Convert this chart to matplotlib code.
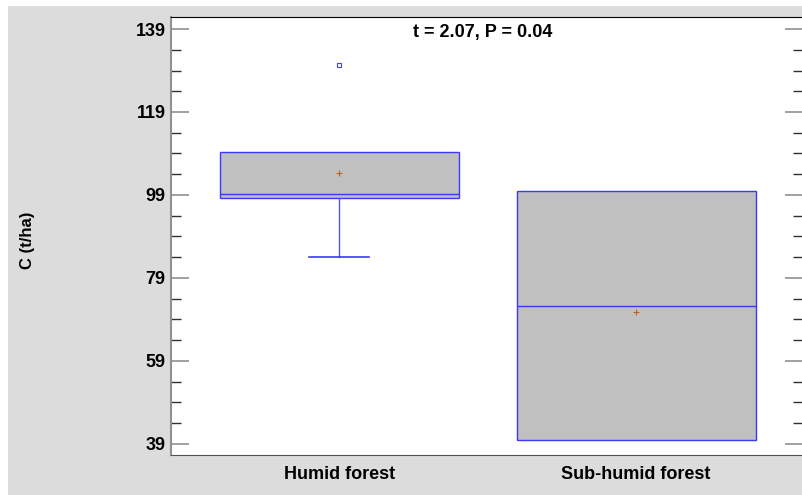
import matplotlib.pyplot as plt
from matplotlib.patches import Rectangle
from matplotlib.ticker import FixedLocator

# data
groups = ["Humid forest", "Sub-humid forest"]
q1 = [98.3, 40.0]
medians = [99.2, 72.3]
q3 = [109.4, 99.9]
whis_lo = [84.0, 40.0]
whis_hi = [109.4, 99.9]
means = [104.2, 70.7]
outliers = [[130.3], []]
yticks = [39, 59, 79, 99, 119, 139]
title = "t = 2.07, P = 0.04"

plt.rcParams['font.family'] = ['Liberation Sans Narrow', 'Liberation Sans', 'DejaVu Sans']
plt.rcParams['font.weight'] = 'bold'

fig = plt.figure(figsize=(8.03, 4.95), dpi=100, facecolor="white")
fig.patches.append(Rectangle((8/803, 0), 1, 489/495, transform=fig.transFigure,
                             facecolor="#dcdcdc", edgecolor="none", zorder=-10))

ax = fig.add_axes([171/803, 40/495, 632/803, 438/495])
ax.set_zorder(1)
ax.set_facecolor("white")

stats = []
for i in range(len(groups)):
    stats.append(dict(label=groups[i], q1=q1[i], med=medians[i], q3=q3[i],
                      whislo=whis_lo[i], whishi=whis_hi[i], mean=means[i],
                      fliers=outliers[i]))

parts = ax.bxp(stats, positions=[1, 2], widths=0.805, patch_artist=True, showmeans=True,
               boxprops=dict(facecolor="#c0c0c0", edgecolor="#3a3aff", linewidth=1.0),
               medianprops=dict(color="#3a3aff", linewidth=1.0),
               whiskerprops=dict(color="#5050ff", linewidth=1.0),
               capprops=dict(color="#3a3aff", linewidth=1.2),
               capwidths=0.2,
               meanprops=dict(marker="+", markeredgecolor="#c06020", markersize=4,
                              markeredgewidth=0.8),
               flierprops=dict(marker="s", markerfacecolor="white", markeredgecolor="#4040ff",
                               markersize=3.5, markeredgewidth=0.8))
# whiskers that collapse onto the box get no cap
for i in range(len(groups)):
    if whis_lo[i] >= q1[i]:
        parts["caps"][2 * i].set_visible(False)
    if whis_hi[i] <= q3[i]:
        parts["caps"][2 * i + 1].set_visible(False)

ax.set_xlim(0.434, 2.562)
ax.set_ylim(36.3, 141.9)
ax.yaxis.set_major_locator(FixedLocator(yticks))
ax.yaxis.set_minor_locator(FixedLocator([v + d for v in yticks[:-1] for d in (5, 10, 15)]))
ax.tick_params(axis="y", which="major", direction="in", length=13, width=1.2,
               color="#909090", labelsize=13, right=True, pad=4)
ax.tick_params(axis="y", which="minor", direction="in", length=7, width=1.0,
               color="#303030", right=True)
ax.tick_params(axis="x", length=0, labelsize=13, pad=8)
for lab in ax.get_xticklabels() + ax.get_yticklabels():
    lab.set_fontweight("bold")

ax.spines["top"].set_color("black")
ax.spines["left"].set_color("#909090")
ax.spines["left"].set_linewidth(1.5)
ax.spines["bottom"].set_color("#505050")
ax.spines["right"].set_visible(False)

ax.text(0.493, 0.983, title, transform=ax.transAxes, ha="center", va="top",
        fontsize=13, fontweight="bold")
fig.text(28/803, 1 - 240/495, "C (t/ha)", rotation=90, ha="center", va="center",
         fontsize=12, fontweight="bold")

fig.savefig("out.png", dpi=100)
